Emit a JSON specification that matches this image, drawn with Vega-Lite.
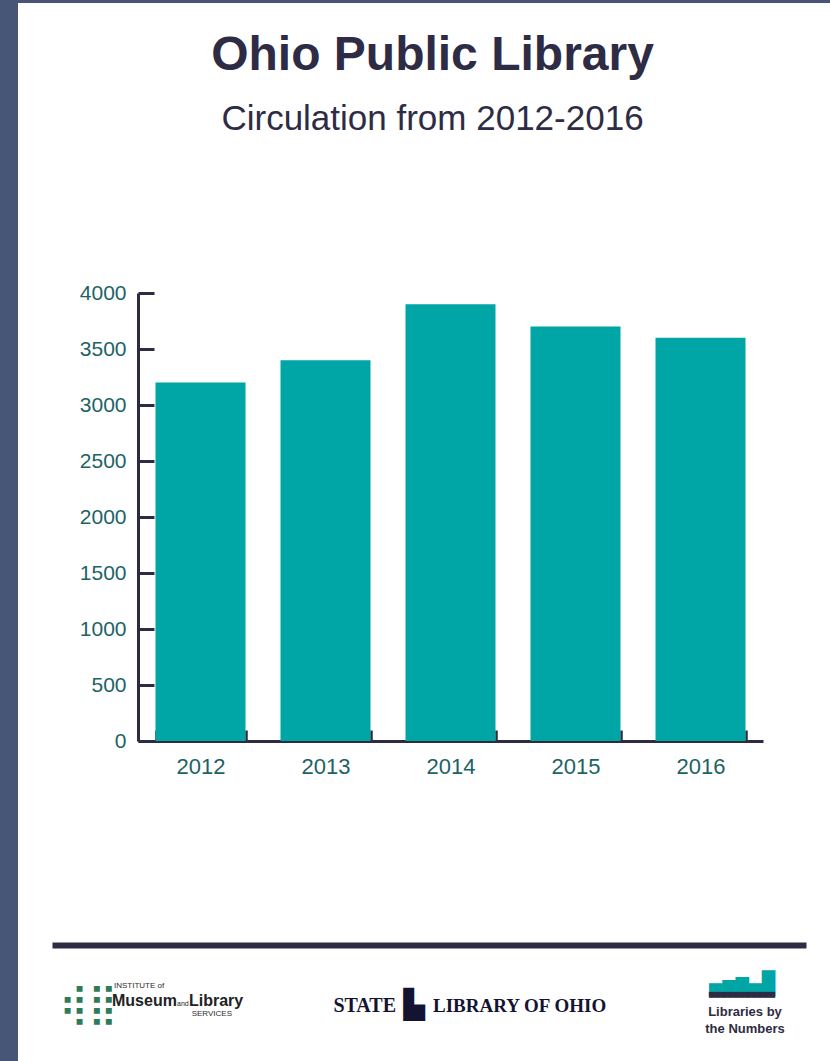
{
  "$schema": "https://vega.github.io/schema/vega-lite/v6.json",
  "padding": 0,
  "background": "white",
  "spacing": 0,
  "config": {"view": {"stroke": null}, "font": "Liberation Sans"},
  "vconcat": [
    {
      "width": 830,
      "height": 3,
      "view": {"fill": "#475676", "stroke": null},
      "data": {"values": [{"part": "top border"}]},
      "mark": {"type": "rect", "color": "#475676"},
      "encoding": {}
    },
    {
      "spacing": 34,
      "hconcat": [
        {
          "width": 18,
          "height": 1058,
          "view": {"fill": "#475676", "stroke": null},
          "data": {"values": [{"part": "left border"}]},
          "mark": {"type": "rect", "color": "#475676"},
          "encoding": {}
        },
        {
          "spacing": 9,
          "vconcat": [
            {
              "width": 1,
              "height": 0,
              "data": {"values": []},
              "mark": {"type": "rect", "opacity": 0},
              "encoding": {}
            },
            {
              "spacing": 168,
              "vconcat": [
                {
                  "spacing": 0,
                  "hconcat": [
                    {
                      "width": 16,
                      "height": 448,
                      "data": {"values": []},
                      "mark": {"type": "rect", "opacity": 0},
                      "encoding": {}
                    },
                    {
                      "width": 625,
                      "height": 448,
                      "title": {
                        "text": "Ohio Public Library",
                        "subtitle": "Circulation from 2012-2016",
                        "font": "Liberation Sans",
                        "fontSize": 48,
                        "fontWeight": "bold",
                        "color": "#2e2c45",
                        "subtitleFont": "Liberation Sans",
                        "subtitleFontSize": 35,
                        "subtitleColor": "#2e2c45",
                        "subtitlePadding": 22,
                        "offset": 145,
                        "anchor": "middle",
                        "dx": -18
                      },
                      "data": {
                        "values": [
                          {"year": "2012", "circulation": 3200},
                          {"year": "2013", "circulation": 3400},
                          {"year": "2014", "circulation": 3900},
                          {"year": "2015", "circulation": 3700},
                          {"year": "2016", "circulation": 3600}
                        ]
                      },
                      "mark": {"type": "bar", "color": "#00a5a5"},
                      "encoding": {
                        "x": {
                          "field": "year",
                          "type": "ordinal",
                          "scale": {"paddingInner": 0.28, "paddingOuter": 0.14},
                          "axis": {
                            "title": null,
                            "labelAngle": 0,
                            "labelFont": "Liberation Sans",
                            "labelFontSize": 22,
                            "labelColor": "#1d6363",
                            "labelPadding": 26,
                            "domainColor": "#2e2c40",
                            "domainWidth": 3,
                            "tickColor": "#2e2c40",
                            "tickWidth": 2.5,
                            "tickSize": -11,
                            "tickBand": "extent"
                          }
                        },
                        "y": {
                          "field": "circulation",
                          "type": "quantitative",
                          "scale": {"domain": [0, 4000]},
                          "axis": {
                            "title": null,
                            "format": "d",
                            "values": [0, 500, 1000, 1500, 2000, 2500, 3000, 3500, 4000],
                            "grid": false,
                            "labelFont": "Liberation Sans",
                            "labelFontSize": 21,
                            "labelColor": "#1d6363",
                            "labelPadding": 28,
                            "domainColor": "#2e2c40",
                            "domainWidth": 3,
                            "tickColor": "#2e2c40",
                            "tickWidth": 3,
                            "tickSize": -16,
                            "minExtent": 70,
                            "maxExtent": 70
                          }
                        }
                      }
                    }
                  ]
                },
                {
                  "width": 754,
                  "height": 115,
                  "data": {
                    "values": [
                      {"logo": "IMLS", "element": "imls-mark", "label": "⢾⣿"},
                      {"logo": "IMLS", "element": "imls-top", "label": "INSTITUTE of"},
                      {"logo": "IMLS", "element": "imls-museum", "label": "Museum"},
                      {"logo": "IMLS", "element": "imls-and", "label": "and"},
                      {"logo": "IMLS", "element": "imls-library", "label": "Library"},
                      {"logo": "IMLS", "element": "imls-bottom", "label": "SERVICES"},
                      {"logo": "SLO", "element": "slo-left", "label": "STATE"},
                      {"logo": "SLO", "element": "slo-icon", "label": "▙"},
                      {"logo": "SLO", "element": "slo-right", "label": "LIBRARY OF OHIO"},
                      {"logo": "LBN", "element": "lbn-bars", "label": "▄▅▆▄█"},
                      {"logo": "LBN", "element": "lbn-base", "label": "▀▀▀▀▀▀▀▀▀▀▀"},
                      {"logo": "LBN", "element": "lbn-line1", "label": "Libraries by"},
                      {"logo": "LBN", "element": "lbn-line2", "label": "the Numbers"}
                    ]
                  },
                  "encoding": {
                    "x": {
                      "field": "logo",
                      "type": "nominal",
                      "scale": {"type": "point", "domain": ["IMLS", "SLO", "LBN"], "padding": 0},
                      "axis": {
                        "orient": "top",
                        "title": null,
                        "labels": false,
                        "ticks": false,
                        "domainWidth": 6,
                        "domainColor": "#2e2c42"
                      }
                    },
                    "text": {"field": "label"}
                  },
                  "layer": [
                    {"transform": [{"filter": "datum.element == 'imls-mark'"}], "mark": {"type": "text", "font": "DejaVu Sans", "fontSize": 40, "color": "#2f7b58", "align": "center", "dx": 36, "dy": 2}},
                    {"transform": [{"filter": "datum.element == 'imls-top'"}], "mark": {"type": "text", "font": "Liberation Sans", "fontSize": 8, "color": "#2b2b2b", "align": "left", "dx": 62, "dy": -17}},
                    {"transform": [{"filter": "datum.element == 'imls-museum'"}], "mark": {"type": "text", "font": "Liberation Sans", "fontWeight": "bold", "fontSize": 16, "color": "#222222", "align": "left", "dx": 60, "dy": -2}},
                    {"transform": [{"filter": "datum.element == 'imls-and'"}], "mark": {"type": "text", "font": "Liberation Sans", "fontSize": 7, "color": "#222222", "align": "left", "dx": 125, "dy": 1}},
                    {"transform": [{"filter": "datum.element == 'imls-library'"}], "mark": {"type": "text", "font": "Liberation Sans", "fontWeight": "bold", "fontSize": 16, "color": "#222222", "align": "left", "dx": 137, "dy": -2}},
                    {"transform": [{"filter": "datum.element == 'imls-bottom'"}], "mark": {"type": "text", "font": "Liberation Sans", "fontSize": 8, "color": "#2b2b2b", "align": "right", "dx": 180, "dy": 11}},
                    {"transform": [{"filter": "datum.element == 'slo-left'"}], "mark": {"type": "text", "font": "Liberation Serif", "fontWeight": "bold", "fontSize": 20, "color": "#141432", "align": "right", "dx": -33, "dy": 3}},
                    {"transform": [{"filter": "datum.element == 'slo-icon'"}], "mark": {"type": "text", "font": "DejaVu Sans", "fontSize": 28, "color": "#141432", "align": "center", "dx": -15, "dy": 3}},
                    {"transform": [{"filter": "datum.element == 'slo-right'"}], "mark": {"type": "text", "font": "Liberation Serif", "fontWeight": "bold", "fontSize": 19, "color": "#141432", "align": "left", "dx": 4, "dy": 3}},
                    {"transform": [{"filter": "datum.element == 'lbn-bars'"}], "mark": {"type": "text", "font": "DejaVu Sans Mono", "fontSize": 22, "color": "#00a5a5", "align": "center", "baseline": "bottom", "dx": -64, "dy": -7}},
                    {"transform": [{"filter": "datum.element == 'lbn-base'"}], "mark": {"type": "text", "font": "DejaVu Sans Mono", "fontSize": 10, "color": "#2e2c42", "align": "center", "dx": -64, "dy": -5}},
                    {"transform": [{"filter": "datum.element == 'lbn-line1'"}], "mark": {"type": "text", "font": "Liberation Sans", "fontWeight": "bold", "fontSize": 13, "color": "#2e2c42", "align": "center", "dx": -61, "dy": 9}},
                    {"transform": [{"filter": "datum.element == 'lbn-line2'"}], "mark": {"type": "text", "font": "Liberation Sans", "fontWeight": "bold", "fontSize": 13, "color": "#2e2c42", "align": "center", "dx": -61, "dy": 26}}
                  ]
                }
              ]
            }
          ]
        }
      ]
    }
  ]
}
